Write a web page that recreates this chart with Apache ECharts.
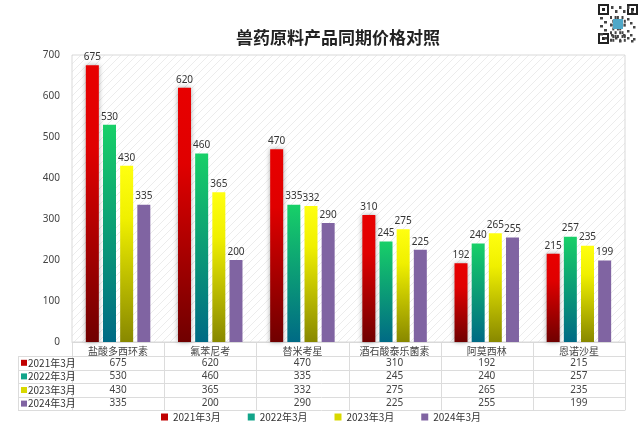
<!DOCTYPE html>
<html><head><meta charset="utf-8">
<script src="https://cdn.jsdelivr.net/npm/echarts@6/dist/echarts.min.js"></script>
<style>html,body{margin:0;padding:0;background:#fff}#c{width:642px;height:430px}</style>
</head><body><div id="c"></div>
<script>
const categories = ['盐酸多西环素','氟苯尼考','替米考星','酒石酸泰乐菌素','阿莫西林','恩诺沙星'];
const seriesNames = ['2021年3月','2022年3月','2023年3月','2024年3月'];
const v2021 = [675,620,470,310,192,215];
const v2022 = [530,460,335,245,240,257];
const v2023 = [430,365,332,275,265,235];
const v2024 = [335,200,290,225,255,199];
const yTicks = [0,100,200,300,400,500,600,700];
const allValues = [v2021,v2022,v2023,v2024];

const swatch = ['#c00000','#12a58a','#d8d800','#8064a2'];
const grads = [
  ['#e80000','#e00000','#700000'],
  ['#18d068','#10b070','#006a85'],
  ['#ffff10','#f0f000','#888800'],
  ['#8064a2','#8064a2','#8064a2']
];
function grad(c){return new echarts.graphic.LinearGradient(0,0,0,1,[{offset:0,color:c[0]},{offset:0.3,color:c[1]},{offset:1,color:c[2]}]);}

const pc = document.createElement('canvas'); pc.width=8; pc.height=8;
const g = pc.getContext('2d'); g.fillStyle='#fff'; g.fillRect(0,0,8,8);
g.strokeStyle='#ececec'; g.lineWidth=1; g.beginPath(); g.moveTo(0,8); g.lineTo(8,0); g.stroke();

const L=72, R=625, T=55, B=342;
const chart = echarts.init(document.getElementById('c'));
const series = seriesNames.map((n,i)=>({
  name:n, type:'bar', data: allValues[i], barWidth:13, barGap:'32%',
  itemStyle:{color:grad(grads[i]), shadowColor: i===0?'rgba(0,0,0,0.35)':'rgba(0,0,0,0)', shadowBlur: i===0?5:0},
  label:{show:true, position:'top', distance:3, color:'#333', fontSize:10, fontFamily:'Noto Sans'}
}));
chart.setOption({
  animation:false,
  title:{text:'兽药原料产品同期价格对照', left:333, top:24, textAlign:'center',
    textStyle:{fontSize:17, fontWeight:'bold', color:'#222', fontFamily:'Noto Sans CJK SC'}},
  grid:{left:L, right:642-R, top:T, bottom:430-B, show:true, backgroundColor:{image:pc, repeat:'repeat'}, borderColor:'#d9d9d9', borderWidth:1},
  legend:{bottom:3, left:'center', itemWidth:7, itemHeight:7, itemGap:27, icon:'rect',
    textStyle:{fontSize:10, color:'#333', fontFamily:'Noto Sans CJK SC'},
    data:seriesNames.map((n,i)=>({name:n, itemStyle:{color:swatch[i]}}))},
  xAxis:{type:'category', data:categories,
    axisLine:{lineStyle:{color:'#d9d9d9'}}, axisTick:{show:false},
    axisLabel:{fontSize:10, color:'#444', margin:4, fontFamily:'Noto Sans CJK SC', interval:0}},
  yAxis:{type:'value', min:0, max:700, interval:100,
    axisLine:{show:false}, axisTick:{show:false}, splitLine:{show:false},
    axisLabel:{fontSize:10, color:'#444', margin:12, fontFamily:'Noto Sans'}},
  series: series
});

const catW = (R-L)/categories.length;
const rowTop = 356, rowH = 13.6;
const els = [];
const lineStyle = {stroke:'#dcdcdc', lineWidth:1};
for(let r=0;r<=4;r++){
  const y = Math.round(rowTop + r*rowH)+0.5;
  els.push({type:'line', shape:{x1:18, y1:y, x2:R, y2:y}, style:lineStyle, silent:true});
}
for(let k=0;k<=categories.length;k++){
  const x = Math.round(L + k*catW)+0.5;
  els.push({type:'line', shape:{x1:x, y1:B, x2:x, y2:rowTop+4*rowH}, style:lineStyle, silent:true});
}
els.push({type:'line', shape:{x1:18.5, y1:rowTop, x2:18.5, y2:rowTop+4*rowH}, style:lineStyle, silent:true});
seriesNames.forEach((n,i)=>{
  const cy = rowTop + i*rowH + rowH/2;
  els.push({type:'rect', shape:{x:21, y:cy-3, width:6, height:6}, style:{fill:swatch[i]}, silent:true});
  els.push({type:'text', x:28, y:cy, style:{text:n, fontSize:10, fill:'#333', verticalAlign:'middle', fontFamily:'Noto Sans CJK SC'}, silent:true});
  allValues[i].forEach((v,j)=>{
    const cx = chart.convertToPixel({xAxisIndex:0}, j);
    els.push({type:'text', x:cx, y:cy, style:{text:String(v), fontSize:10, fill:'#444', align:'center', verticalAlign:'middle', fontFamily:'Noto Sans'}, silent:true});
  });
});
// QR-like decoration top right
const qx=598, qy=4, qs=40;
els.push({type:'rect', shape:{x:qx, y:qy, width:qs, height:qs}, style:{fill:'#fff', stroke:'#333', lineWidth:0}, silent:true});
[[0,0],[qs-11,0],[0,qs-11]].forEach(p=>{
  els.push({type:'rect', shape:{x:qx+p[0]+1, y:qy+p[1]+1, width:9, height:9}, style:{fill:'none', stroke:'#222', lineWidth:2}, silent:true});
  els.push({type:'rect', shape:{x:qx+p[0]+4, y:qy+p[1]+4, width:3, height:3}, style:{fill:'#222'}, silent:true});
});
const qrBits = ['1011010','0110101','1101011','0101100','1010110','0111011','1100101'];
qrBits.forEach((row,r)=>row.split('').forEach((b,c)=>{
  const x = qx+12+c*2.3, y = qy+12+r*3.8;
  if(b==='1') els.push({type:'rect', shape:{x:x, y:y, width:2, height:3}, style:{fill:'#444'}, silent:true});
}));
for(let k=0;k<6;k++){ els.push({type:'rect', shape:{x:qx+13+k*4, y:qy+2+ (k%2)*4, width:2.5, height:3}, style:{fill:'#444'}, silent:true});
  els.push({type:'rect', shape:{x:qx+2+ (k%2)*4, y:qy+13+k*4, width:3, height:2.5}, style:{fill:'#444'}, silent:true});
  els.push({type:'rect', shape:{x:qx+29+(k%3)*3, y:qy+14+k*4, width:2.5, height:2.5}, style:{fill:'#444'}, silent:true});
  els.push({type:'rect', shape:{x:qx+13+k*4, y:qy+30+(k%3)*3, width:2.5, height:2.5}, style:{fill:'#444'}, silent:true});}
els.push({type:'rect', shape:{x:qx+15, y:qy+15, width:10, height:10}, style:{fill:'#4fa8c8'}, silent:true});
chart.setOption({graphic:els});
</script>
</body></html>
